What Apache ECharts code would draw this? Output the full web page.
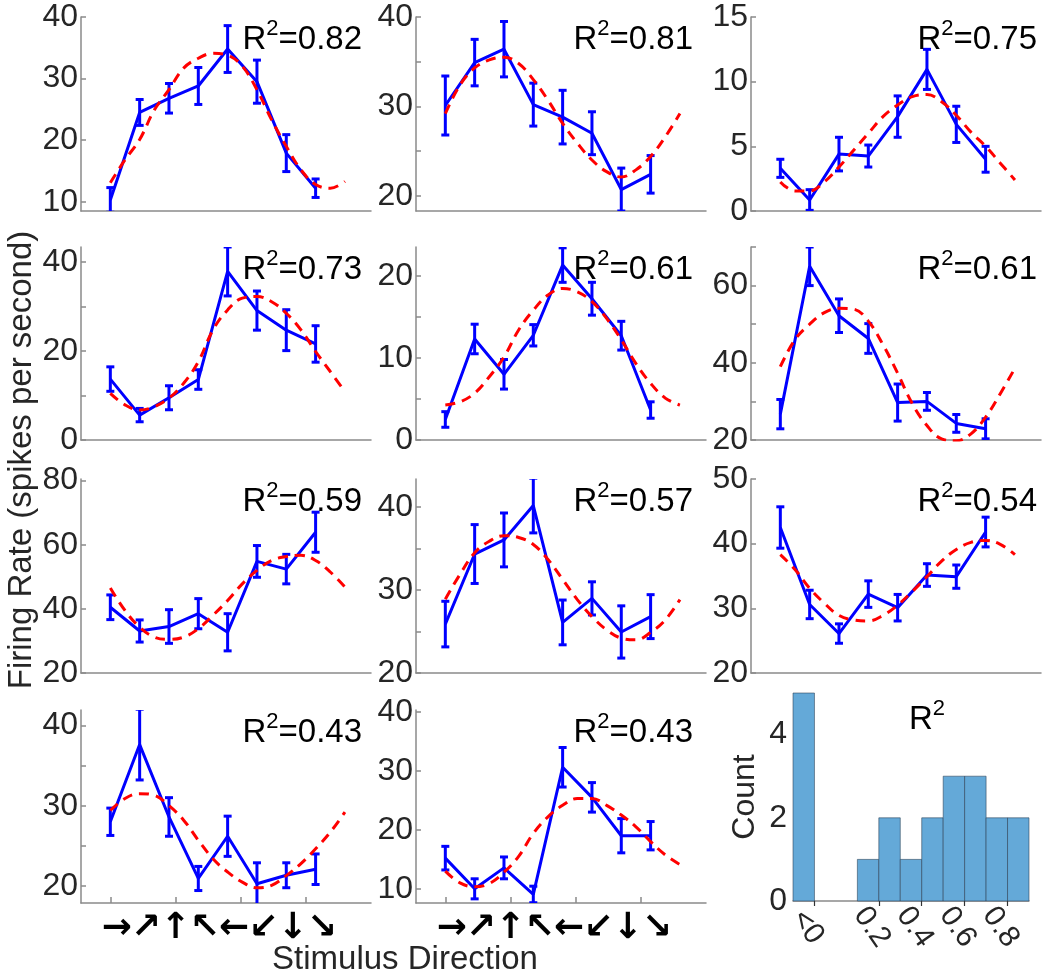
<!DOCTYPE html>
<html><head><meta charset="utf-8">
<script src="https://cdn.jsdelivr.net/npm/echarts@6/dist/echarts.min.js"></script>
<style>html,body{margin:0;padding:0;background:#fff}#c{width:1050px;height:980px}</style>
</head><body><div id="c"></div><script>
// ---- data ----
const directions = [0, 45, 90, 135, 180, 225, 270, 315];
const fitAngles = [0, 22.5, 45, 67.5, 90, 112.5, 135, 157.5, 180, 202.5, 225, 247.5, 270, 292.5, 315, 337.5, 360];
const arrowLabels = ['→', '↗', '↑', '↖', '←', '↙', '↓', '↘'];
const arrowShift = 10; // arrows sit slightly right of their direction
const xTickVals = [0, 100, 200, 300];
const r2Labels = ['0.82', '0.81', '0.75', '0.73', '0.61', '0.61', '0.59', '0.57', '0.54', '0.43', '0.43'];

const mean1 = [10.3, 24.5, 26.8, 28.8, 34.8, 29.5, 17.9, 12.2];
const err1 = [2.0, 2.1, 2.4, 3.0, 3.8, 3.5, 3.0, 1.5];
const fit1 = [13.1, 16.8, 20.1, 24.9, 28.2, 31.7, 33.3, 34.1, 33.8, 32.0, 28.2, 23.3, 19.0, 15.2, 12.8, 12.2, 13.3];

const mean2 = [30.1, 34.9, 36.4, 30.2, 28.8, 27.0, 20.7, 22.4];
const err2 = [3.3, 2.6, 3.1, 2.4, 3.0, 2.4, 2.4, 2.1];
const fit2 = [29.2, 32.4, 34.3, 35.2, 35.5, 34.8, 33.0, 30.7, 28.1, 25.9, 24.0, 22.7, 22.1, 22.9, 24.4, 26.6, 29.2];

const mean3 = [3.3, 0.85, 4.4, 4.25, 7.3, 10.95, 6.7, 4.0];
const err3 = [0.7, 0.8, 1.3, 0.85, 1.6, 1.55, 1.4, 1.0];
const fit3 = [2.25, 1.55, 1.55, 2.25, 3.4, 4.7, 6.0, 7.3, 8.2, 8.85, 9.0, 8.45, 7.4, 6.1, 5.0, 3.7, 2.4];

const mean4 = [13.7, 5.6, 9.5, 13.6, 37.9, 29.1, 24.7, 21.6];
const err4 = [2.75, 1.5, 2.7, 2.2, 5.5, 4.4, 4.6, 4.1];
const fit4 = [10.5, 7.9, 6.75, 7.5, 9.4, 12.75, 17.6, 24.75, 29.25, 31.9, 32.25, 31.1, 28.5, 24.75, 19.9, 15.4, 10.9];

const mean5 = [2.5, 12.3, 8.0, 12.75, 21.3, 17.2, 12.7, 3.65];
const err5 = [0.95, 1.8, 1.8, 1.3, 2.1, 2.0, 1.75, 1.0];
const fit5 = [4.25, 4.65, 5.7, 7.7, 10.1, 13.4, 15.8, 17.65, 18.45, 18.05, 16.85, 14.8, 12.2, 9.3, 6.9, 5.1, 4.25];

const mean6 = [26.7, 65.0, 52.2, 46.3, 29.7, 30.0, 24.3, 22.9];
const err6 = [3.8, 5.0, 4.35, 3.85, 4.8, 2.3, 2.3, 2.6];
const fit6 = [39, 46, 50, 53, 54.1, 53.9, 50.8, 44.7, 37.3, 29.4, 23.75, 20.3, 19.8, 21.6, 25.9, 32, 38.6];

const mean7 = [40.5, 33.1, 34.5, 38.5, 32.7, 54.8, 52.4, 63.9];
const err7 = [3.85, 3.45, 5.25, 4.7, 5.8, 4.95, 4.6, 6.25];
const fit7 = [46.5, 39.5, 34.3, 31.2, 30.5, 31.2, 33.8, 38, 42.6, 47.8, 52, 55.1, 56.3, 56.7, 55.1, 51.5, 46.8];

const mean8 = [25.9, 34.35, 36.05, 40.2, 26.1, 29.0, 24.95, 26.8];
const err8 = [2.75, 3.55, 3.25, 3.3, 2.7, 2.0, 3.15, 2.65];
const fit8 = [28.9, 31.9, 34.5, 35.9, 36.55, 36.35, 35.5, 33.7, 31.3, 28.85, 26.8, 25.2, 24.2, 24.0, 24.9, 26.4, 28.85];

const mean9 = [42.5, 30.6, 26.1, 32.2, 30.1, 35.15, 34.9, 41.8];
const err9 = [3.2, 2.2, 1.5, 2.05, 2.05, 1.75, 1.8, 2.3];
const fit9 = [38.3, 36, 33.1, 30.8, 28.9, 28.2, 28.05, 28.9, 30.5, 32.6, 34.9, 37.3, 39.1, 40.2, 40.5, 39.9, 38.3];

const mean10 = [28.0, 37.6, 28.6, 20.95, 26.2, 20.3, 21.35, 22.1];
const err10 = [1.7, 4.4, 2.4, 1.5, 2.5, 2.6, 1.55, 1.9];
const fit10 = [29.4, 30.9, 31.5, 31.3, 30.0, 28.2, 25.7, 23.4, 21.75, 20.5, 19.8, 20.1, 21.3, 22.8, 24.65, 26.7, 29.2];

const mean11 = [15.2, 10.0, 13.55, 9.05, 30.6, 25.5, 19.0, 19.0];
const err11 = [2.0, 1.7, 1.85, 1.4, 3.35, 2.5, 2.9, 2.4];
const fit11 = [13.0, 11.0, 10.35, 10.9, 12.8, 15.5, 19.4, 22.2, 24.15, 25.3, 25.3, 24.15, 22.5, 20.5, 18.0, 15.75, 14.1];

// y-axis ranges and ticks per panel
const yMins = [8.5, 18.3, 0, 0, 0, 20, 20, 20, 20, 17.9, 7.6];
const yMaxs = [40, 40, 15, 43.4, 23.5, 70, 80.5, 43.4, 50, 41.9, 40.3];
const yTicks = [[10,20,30,40],[20,25,30,35,40],[0,5,10,15],[0,10,20,30,40],[0,5,10,15,20],[20,30,40,50,60,70],[20,40,60,80],[20,25,30,35,40],[20,30,40,50],[20,25,30,35,40],[10,20,30,40]];
const yTickLabels = [[10,20,30,40],[20,30,40],[0,5,10,15],[0,20,40],[0,10,20],[20,40,60],[20,40,60,80],[20,30,40],[20,30,40,50],[20,30,40],[10,20,30,40]];

// histogram of R^2
const histBinLo = [-0.2, 0.1, 0.2, 0.3, 0.4, 0.5, 0.6, 0.7, 0.8];
const histBinHi = [-0.1, 0.2, 0.3, 0.4, 0.5, 0.6, 0.7, 0.8, 0.9];
const histCounts = [5, 1, 2, 1, 2, 3, 3, 2, 2];
const histTickVals = [-0.1, 0.2, 0.4, 0.6, 0.8];
const histTickText = ['<0', '0.2', '0.4', '0.6', '0.8'];
const histYLabels = [0, 2, 4];

// ---- build ----
const means = [mean1, mean2, mean3, mean4, mean5, mean6, mean7, mean8, mean9, mean10, mean11];
const errs = [err1, err2, err3, err4, err5, err6, err7, err8, err9, err10, err11];
const fits = [fit1, fit2, fit3, fit4, fit5, fit6, fit7, fit8, fit9, fit10, fit11];

const FONT = "'Liberation Sans', Arial, Helvetica, sans-serif";
const AXIS = '#8a8a8a';
const TXT = '#262626';
const colLeft = [81, 416, 751];
const rowTop = [17, 247, 479, 710];
const rowH = [194, 193, 194, 193];
const panelW = 290;
const r2Right = [688, 357, 13];
const X_MIN = -45, X_MAX = 400;
const arrowPos = directions.map(d => d + arrowShift);
// blank end labels absorb ECharts' min/max-label overlap handling
const arrowLabelVals = [X_MIN].concat(arrowPos, [X_MAX]);

const grids = [], xAxes = [], yAxes = [], series = [], titles = [];

function renderErr(params, api) {
  const x = api.value(0), lo = api.value(1), hi = api.value(2);
  const a = api.coord([x, hi]), b = api.coord([x, lo]);
  const w = 4;
  const st = { stroke: '#0000ff', lineWidth: 3 };
  return { type: 'group', children: [
    { type: 'line', shape: { x1: a[0], y1: a[1], x2: b[0], y2: b[1] }, style: st },
    { type: 'line', shape: { x1: a[0] - w, y1: a[1], x2: a[0] + w, y2: a[1] }, style: st },
    { type: 'line', shape: { x1: b[0] - w, y1: b[1], x2: b[0] + w, y2: b[1] }, style: st }
  ]};
}

const richR2 = {
  r: { fontSize: 33, fontWeight: 'normal', fontFamily: FONT, color: '#000', lineHeight: 38, verticalAlign: 'bottom' },
  s: { fontSize: 22, fontWeight: 'normal', fontFamily: FONT, color: '#000', lineHeight: 18, verticalAlign: 'top' }
};

means.forEach((m, i) => {
  const r = Math.floor(i / 3), c = i % 3;
  const bottom = r === 3;
  grids.push({ left: colLeft[c], top: rowTop[r], width: panelW, height: rowH[r] });
  xAxes.push({
    gridIndex: i, type: 'value', min: X_MIN, max: X_MAX,
    axisLine: { show: true, onZero: false, lineStyle: { color: AXIS, width: 1.5 } },
    splitLine: { show: false },
    axisTick: bottom ? { show: true, inside: true, length: 6, customValues: xTickVals, lineStyle: { color: AXIS, width: 1.5 } } : { show: false },
    axisLabel: bottom ? {
      show: true, customValues: arrowLabelVals, hideOverlap: false,
      formatter: v => { const k = arrowPos.indexOf(v); return k >= 0 ? arrowLabels[k] : ' '; },
      margin: 8, fontFamily: 'DejaVu Sans', fontWeight: 'bold', fontSize: 36, color: '#000'
    } : { show: false }
  });
  yAxes.push({
    gridIndex: i, type: 'value', min: yMins[i], max: yMaxs[i],
    axisLine: { show: true, onZero: false, lineStyle: { color: AXIS, width: 1.5 } },
    splitLine: { show: false },
    axisTick: { show: true, inside: true, length: 5, customValues: yTicks[i], lineStyle: { color: AXIS, width: 1.5 } },
    axisLabel: { show: true, customValues: yTickLabels[i], showMinLabel: true, showMaxLabel: true, fontSize: 32, fontFamily: FONT, color: TXT, margin: 3 }
  });
  series.push({
    type: 'custom', xAxisIndex: i, yAxisIndex: i, clip: true, z: 2,
    renderItem: renderErr,
    data: directions.map((d, k) => [d, m[k] - errs[i][k], m[k] + errs[i][k]])
  });
  series.push({
    type: 'line', xAxisIndex: i, yAxisIndex: i, z: 3, showSymbol: false, symbol: 'none',
    lineStyle: { color: '#0000ff', width: 3 },
    data: directions.map((d, k) => [d, m[k]])
  });
  series.push({
    type: 'line', xAxisIndex: i, yAxisIndex: i, z: 4, showSymbol: false, symbol: 'none', smooth: 0.4, clip: true,
    lineStyle: { color: '#ff0000', width: 3, type: [10, 7] },
    data: fitAngles.map((a, k) => [a, fits[i][k]])
  });
  titles.push({
    text: '{r|R}{s|2}{r|=' + r2Labels[i] + '}', right: r2Right[c], top: rowTop[r] + 1, padding: 0,
    textStyle: { fontWeight: 'normal', rich: richR2 }
  });
});

// histogram panel
const hi = 11;
grids.push({ left: 793, top: 693, width: 236, height: 208 });
xAxes.push({
  gridIndex: hi, type: 'value', min: -0.2, max: 0.9,
  axisLine: { show: true, onZero: false, lineStyle: { color: AXIS, width: 1.5 } },
  splitLine: { show: false },
  axisTick: { show: true, inside: false, length: 5, customValues: histTickVals, lineStyle: { color: '#333', width: 1.2 } },
  axisLabel: {
    show: true, customValues: histTickVals, showMinLabel: true, showMaxLabel: true,
    rotate: -55, align: 'center', verticalAlign: 'middle', margin: 36,
    formatter: v => histTickText[histTickVals.findIndex(t => Math.abs(t - v) < 1e-6)],
    fontSize: 30, fontFamily: FONT, color: TXT, padding: [22, 24, 0, 0]
  }
});
yAxes.push({
  gridIndex: hi, type: 'value', min: 0, max: 5,
  axisLine: { show: false }, axisTick: { show: false }, splitLine: { show: false },
  axisLabel: { show: true, customValues: histYLabels, fontSize: 32, fontFamily: FONT, color: TXT, margin: 6 },
  name: 'Count', nameLocation: 'middle', nameGap: 32, nameRotate: 90,
  nameTextStyle: { fontSize: 32, fontFamily: FONT, color: TXT }
});
series.push({
  type: 'custom', xAxisIndex: hi, yAxisIndex: hi, z: 2,
  renderItem: (params, api) => {
    const a = api.coord([api.value(0), api.value(2)]);
    const b = api.coord([api.value(1), 0]);
    return { type: 'rect', shape: { x: a[0], y: a[1], width: b[0] - a[0], height: b[1] - a[1] },
      style: { fill: '#64a9d8', stroke: 'rgba(40,60,80,0.55)', lineWidth: 1 } };
  },
  data: histCounts.map((cnt, k) => [histBinLo[k], histBinHi[k], cnt])
});
titles.push({
  text: '{r|R}{s|2}', left: 927, textAlign: 'center', top: 698, padding: 0,
  textStyle: { fontWeight: 'normal', rich: richR2 }
});

const option = {
  animation: false,
  backgroundColor: '#fff',
  title: titles,
  grid: grids,
  xAxis: xAxes,
  yAxis: yAxes,
  series: series,
  graphic: [
    { type: 'text', x: 22, y: 460, rotation: Math.PI / 2,
      style: { text: 'Firing Rate (spikes per second)', fontSize: 33, fontFamily: FONT, fill: TXT, textAlign: 'center', textVerticalAlign: 'middle' } },
    { type: 'text', x: 405, y: 960,
      style: { text: 'Stimulus Direction', fontSize: 33, fontFamily: FONT, fill: TXT, textAlign: 'center', textVerticalAlign: 'middle' } }
  ]
};
const chart = echarts.init(document.getElementById('c'));
chart.setOption(option);
</script></body></html>
